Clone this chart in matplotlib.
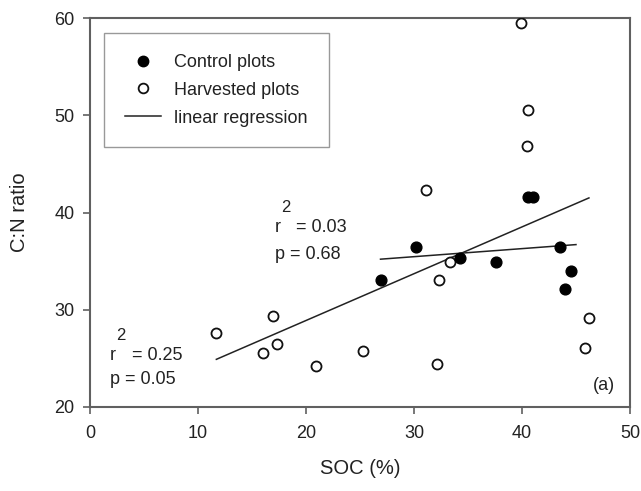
import numpy as np
import matplotlib
matplotlib.use("Agg")
import matplotlib.pyplot as plt
from matplotlib.lines import Line2D

plt.rcParams["font.family"] = ["Liberation Sans", "DejaVu Sans"]

# control plots (filled)
control_soc = [26.9, 30.2, 34.3, 37.6, 40.6, 41.0, 43.5, 44.0, 44.5]
control_cn = [33.1, 36.5, 35.3, 34.9, 41.6, 41.6, 36.5, 32.1, 34.0]

# harvested plots (open)
harvest_soc = [11.7, 16.0, 16.9, 17.3, 20.9, 25.3, 31.1, 32.3, 33.3, 32.1,
               39.9, 40.6, 40.5, 45.8, 46.2]
harvest_cn = [27.6, 25.6, 29.4, 26.5, 24.2, 25.8, 42.3, 33.1, 34.9, 24.4,
              59.5, 50.5, 46.8, 26.1, 29.2]

# regression line ends
ctrl_fit_x = [26.9, 45.0]
ctrl_fit_y = [35.2, 36.7]
harv_fit_x = [11.7, 46.2]
harv_fit_y = [24.9, 41.5]

fig = plt.figure(figsize=(6.41, 4.91), dpi=100)
ax = fig.add_axes([0.1404, 0.1711, 0.8424, 0.7922])

ax.plot(harv_fit_x, harv_fit_y, color="#222222", lw=1.1)
ax.plot(ctrl_fit_x, ctrl_fit_y, color="#222222", lw=1.1)
ax.scatter(harvest_soc, harvest_cn, s=52, facecolors="white",
           edgecolors="#111111", linewidths=1.3, zorder=3)
ax.scatter(control_soc, control_cn, s=60, color="black", zorder=3)

ax.set_xlim(0, 50)
ax.set_ylim(20, 60)
ax.set_xticks(range(0, 51, 10))
ax.set_yticks(range(20, 61, 10))
ax.tick_params(direction="out", length=5, width=1.2, color="#606060",
               labelsize=13, labelcolor="#222222", pad=8,
               top=False, right=False)
ax.tick_params(axis="y", pad=6)
for sp in ax.spines.values():
    sp.set_color("#606060")
    sp.set_linewidth(1.5)

ax.set_xlabel("SOC (%)", fontsize=14.5, color="#222222", labelpad=12)
ax.set_ylabel("C:N ratio", fontsize=14.5, color="#222222", labelpad=18)


def r2_label(x, y, value):
    # r with a big raised 2, like the original figure
    kw = dict(xy=(x, y), textcoords="offset points", fontsize=13,
              color="#222222")
    ax.annotate("r", xytext=(0, 0), **kw)
    kw["fontsize"] = 12
    ax.annotate("2", xytext=(4.3, 14.5), va="baseline", **kw)
    kw["fontsize"] = 13
    ax.annotate("= " + value, xytext=(15.5, 0), **kw)


tk = dict(fontsize=13, color="#222222")
r2_label(1.85, 24.85, "0.25")
ax.text(1.85, 22.8, "p = 0.05", va="center", **tk)
r2_label(17.1, 38.0, "0.03")
ax.text(17.1, 35.7, "p = 0.68", va="center", **tk)
ax.text(48.6, 22.2, "(a)", ha="right", va="center", **tk)

handles = [
    Line2D([], [], marker="o", ls="none", color="black", markersize=7.5),
    Line2D([], [], marker="o", ls="none", markerfacecolor="white",
           markeredgecolor="#111111", markeredgewidth=1.3, markersize=7),
    Line2D([], [], color="#222222", lw=1.1),
]
leg = ax.legend(handles, ["Control plots", "Harvested plots", "linear regression"],
                loc="upper left", bbox_to_anchor=(0.026, 0.961),
                fontsize=13, frameon=True, fancybox=False,
                borderpad=1.15, labelspacing=0.6, handlelength=2.0,
                handletextpad=0.75, borderaxespad=0)
leg.get_frame().set_edgecolor("#808080")
leg.get_frame().set_linewidth(1.0)
for t in leg.get_texts():
    t.set_color("#222222")

fig.savefig("out.png", dpi=100)
